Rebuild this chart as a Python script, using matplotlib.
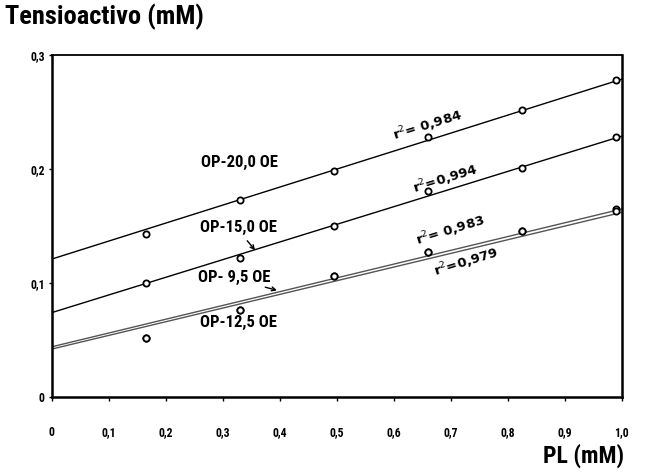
import matplotlib.pyplot as plt
from matplotlib.ticker import FixedLocator

# Data
pl = [0.165, 0.33, 0.495, 0.66, 0.825, 0.99]
op20 = [0.143, 0.173, 0.198, 0.228, 0.252, 0.278]
op15 = [0.100, 0.122, 0.150, 0.181, 0.201, 0.228]
op95 = [0.052, 0.076, 0.106, 0.127, 0.146, 0.165]
op125 = [0.052, 0.076, 0.106, 0.127, 0.146, 0.163]

# regression lines: value at PL=0 and PL=1
fit_x = [0.0, 1.0]
fit20 = [0.121, 0.279]
fit15 = [0.074, 0.229]
fit95 = [0.044, 0.165]
fit125 = [0.042, 0.162]

x_ticks = [0, 0.1, 0.2, 0.3, 0.4, 0.5, 0.6, 0.7, 0.8, 0.9, 1.0]
x_labels = ['0', '0,1', '0,2', '0,3', '0,4', '0,5', '0,6', '0,7', '0,8', '0,9', '1,0']
y_ticks = [0, 0.1, 0.2, 0.3]
y_labels = ['0', '0,1', '0,2', '0,3']

FONT = ['Roboto Condensed', 'Roboto', 'DejaVu Sans']
plt.rcParams['font.family'] = FONT

fig = plt.figure(figsize=(6.45, 4.72), dpi=100)
ax = fig.add_axes([0.080, 0.159, 0.884, 0.724])

ax.plot(fit_x, fit20, color='black', lw=1.0)
ax.plot(fit_x, fit15, color='black', lw=1.0)
ax.plot(fit_x, fit95, color='#555555', lw=1.0)
ax.plot(fit_x, fit125, color='#555555', lw=1.0)

mk = dict(ls='none', marker='o', ms=4.5, mfc='white', mec='black', mew=1.3)
for ys in (op20, op15, op95, op125):
    ax.plot(pl, ys, **mk)

ax.set_xlim(0, 1.0)
ax.set_ylim(0, 0.3)
ax.xaxis.set_major_locator(FixedLocator(x_ticks))
ax.set_xticklabels(x_labels, fontsize=8.5, fontweight='bold')
ax.yaxis.set_major_locator(FixedLocator(y_ticks))
ax.set_yticklabels(y_labels, fontsize=8.5, fontweight='bold')
ax.tick_params(axis='x', length=3, width=1, pad=18)
ax.tick_params(axis='y', length=2, width=1, pad=3)
for s in ax.spines.values():
    s.set_linewidth(1.8)
ax.spines['top'].set_linewidth(1.3)

# curve labels
lab = dict(fontsize=12, fontweight='bold', ha='center', va='center')
ax.text(0.33, 0.206, 'OP-20,0 OE', **lab)
ax.text(0.328, 0.149, 'OP-15,0 OE', **lab)
ax.text(0.32, 0.105, 'OP- 9,5 OE', **lab)
ax.text(0.328, 0.065, 'OP-12,5 OE', **lab)
arr = dict(arrowstyle='->', color='black', lw=1.0, mutation_scale=7)
ax.annotate('', xy=(0.36, 0.127), xytext=(0.34, 0.139), arrowprops=arr)
ax.annotate('', xy=(0.40, 0.093), xytext=(0.37, 0.097), arrowprops=arr)

r2 = dict(fontsize=9.5, fontweight='bold', ha='center', va='center',
          rotation=17, family=['DejaVu Sans'])
ax.text(0.66, 0.238, r'r$^2$= 0,984', **r2)
ax.text(0.69, 0.191, r'r$^2$=0,994', **r2)
ax.text(0.70, 0.146, r'r$^2$= 0,983', **r2)
ax.text(0.727, 0.118, r'r$^2$=0,979', **r2)

fig.text(0.008, 0.965, 'Tensioactivo (mM)', fontsize=19, fontweight='bold',
         ha='left', va='center')
fig.text(0.968, 0.035, 'PL (mM)', fontsize=17, fontweight='bold',
         ha='right', va='center')

fig.savefig('out.png', dpi=100)
